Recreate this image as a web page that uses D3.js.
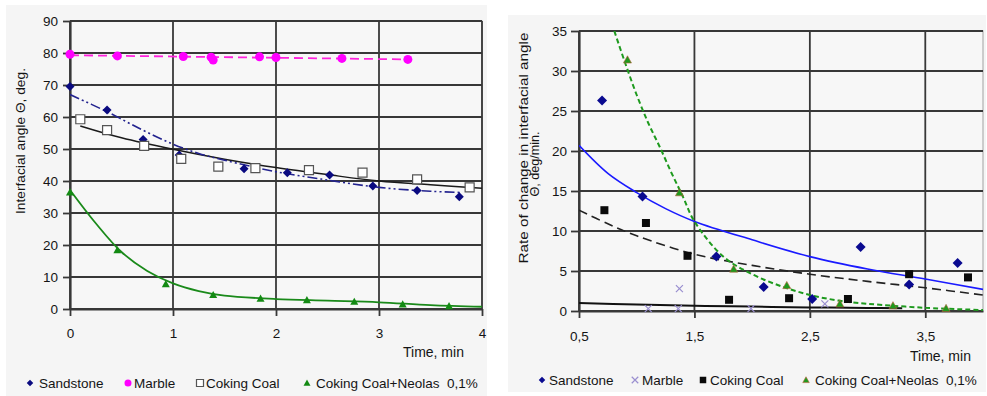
<!DOCTYPE html>
<html>
<head>
<meta charset="utf-8">
<script src="https://cdn.jsdelivr.net/npm/d3@7"></script>
<style>
  body { margin: 0; background: #fff; }
  svg { display: block; font-family: Arial, "Liberation Sans", sans-serif; }
</style>
</head>
<body>
<svg id="chart" width="987" height="396"></svg>
<script>
// ---- Left chart: interfacial angle vs time ----
const sandTime = [0, 0.36, 0.71, 1.06, 1.69, 2.11, 2.52, 2.94, 3.37, 3.78];
const sandAngle = [69.5, 62.2, 53, 48.1, 43.8, 42.6, 41.9, 38.4, 37, 35.1];
const marbleTime = [0, 0.46, 1.1, 1.37, 1.39, 1.84, 2.0, 2.64, 3.28];
const marbleAngle = [79.6, 79.1, 78.9, 78.7, 77.8, 78.8, 78.6, 78.3, 78];
const coalTime = [0.1, 0.36, 0.72, 1.08, 1.44, 1.8, 2.32, 2.84, 3.37, 3.88];
const coalAngle = [59.3, 55.9, 51, 46.9, 44.5, 44, 43.4, 42.6, 40.5, 38];
const neolasTime = [0, 0.46, 0.93, 1.39, 1.85, 2.3, 2.76, 3.23, 3.68];
const neolasAngle = [36.5, 18.4, 7.8, 4.4, 3.3, 2.8, 2.3, 1.5, 0.9];

// trend lines
const sandFitTime = [0, 0.35, 0.7, 1, 1.25, 1.5, 2, 2.5, 3, 3.5, 3.8];
const sandFitAngle = [67, 61.8, 56, 51.5, 48.6, 46.5, 42.9, 40.3, 38, 36.8, 36.4];
const marbleFitTime = [0, 3.28];
const marbleFitAngle = [79.3, 78];
const coalFitTime = [0.1, 0.5, 1, 1.5, 2, 2.5, 3, 3.5, 4];
const coalFitAngle = [57.2, 53.5, 49.9, 46.8, 44.2, 42, 40, 38.8, 37.7];
const neolasFitTime = [0, 0.25, 0.5, 0.75, 1, 1.25, 1.5, 2, 2.5, 3, 3.5, 4];
const neolasFitAngle = [37.2, 26.8, 17.8, 11.9, 8, 5.6, 4.2, 3.1, 2.6, 2.1, 1.2, 0.7];

const leftXTicks = [0, 1, 2, 3, 4];
const leftYTicks = [0, 10, 20, 30, 40, 50, 60, 70, 80, 90];

// ---- Right chart: rate of change vs time ----
const sandTime2 = [0.7, 1.05, 1.69, 2.1, 2.52, 2.94, 3.36, 3.78];
const sandRate = [26.3, 14.3, 6.8, 3.0, 1.5, 8.0, 3.3, 6.0];
const marbleTime2 = [1.1, 1.36, 1.37, 1.99, 2.63];
const marbleRate = [0.3, 0.3, 2.8, 0.3, 0.9];
const coalTime2 = [0.72, 1.08, 1.44, 1.8, 2.32, 2.83, 3.36, 3.87];
const coalRate = [12.6, 11.0, 6.9, 1.4, 1.6, 1.5, 4.6, 4.2];
const neolasTime2 = [0.92, 1.37, 1.84, 2.3, 2.76, 3.22, 3.68];
const neolasRate = [31.4, 14.8, 5.25, 3.2, 0.9, 0.67, 0.33];

const sandFitTime2 = [0.5, 0.75, 1, 1.25, 1.5, 2, 2.5, 3, 3.5, 4];
const sandFitRate = [20.7, 17.2, 14.8, 12.8, 11.2, 8.9, 6.8, 5.25, 4.0, 2.7];
const marbleFitTime2 = [0.5, 1, 1.5, 2, 2.5, 3, 3.3];
const marbleFitRate = [1.0, 0.8, 0.65, 0.55, 0.45, 0.38, 0.35];
const coalFitTime2 = [0.5, 0.75, 1, 1.5, 2, 2.5, 3, 3.5, 4];
const coalFitRate = [12.6, 10.9, 9.4, 7.1, 5.7, 4.6, 3.7, 2.9, 2.0];
const neolasFitTime2 = [0.806, 0.9, 1, 1.1, 1.2, 1.3, 1.4, 1.5, 1.75, 2, 2.25, 2.5, 2.75, 3, 3.5, 4];
const neolasFitRate = [35, 31, 27, 23.5, 20.5, 17.3, 14.3, 11.2, 6.8, 4.6, 3.1, 2.0, 1.3, 0.9, 0.4, 0.12];

const rightXTicks = [0.5, 1.5, 2.5, 3.5];
const rightYTicks = [0, 5, 10, 15, 20, 25, 30, 35];

const legendNames = ['Sandstone', 'Marble', 'Coking Coal', 'Coking Coal+Neolas  0,1%'];

const svg = d3.select('#chart');
const zip = (xs, ys) => xs.map((x, i) => ({ x, y: ys[i] }));

// marker shapes
function markerPath(kind, s) {
  const h = s / 2;
  if (kind === 'diamond') return `M0,${-h}L${h},0L0,${h}L${-h},0Z`;
  if (kind === 'square') return `M${-h},${-h}H${h}V${h}H${-h}Z`;
  if (kind === 'triangle') return `M0,${-h}L${h},${h * 0.8}L${-h},${h * 0.8}Z`;
  if (kind === 'cross') return `M${-h},${-h}L${h},${h}M${h},${-h}L${-h},${h}`;
  return d3.symbol(d3.symbolCircle, s * s * 0.785)();
}

function drawPanel(cfg) {
  const { bg, plot, xDomain, yDomain, xTicks, yTicks, xFmt } = cfg;
  svg.append('rect')
    .attr('x', bg[0]).attr('y', bg[1]).attr('width', bg[2]).attr('height', bg[3])
    .attr('fill', '#f5f5f5');

  const x = d3.scaleLinear().domain(xDomain).range([plot.left, plot.right]);
  const y = d3.scaleLinear().domain(yDomain).range([plot.bottom, plot.top]);

  const g = svg.append('g');

  // plot border (light)
  g.append('rect')
    .attr('x', plot.left).attr('y', plot.top)
    .attr('width', plot.right - plot.left).attr('height', plot.bottom - plot.top)
    .attr('fill', '#f7f7f7').attr('stroke', '#b0b0b0').attr('stroke-width', 1.2);

  // grid lines
  g.append('g').selectAll('line').data(yTicks).join('line')
    .attr('x1', plot.left).attr('x2', plot.right)
    .attr('y1', d => y(d)).attr('y2', d => y(d))
    .attr('stroke', '#383838').attr('stroke-width', 1.8);
  g.append('g').selectAll('line').data(xTicks).join('line')
    .attr('x1', d => x(d)).attr('x2', d => x(d))
    .attr('y1', plot.top).attr('y2', plot.bottom)
    .attr('stroke', '#383838').attr('stroke-width', 1.8);

  // axes
  const yAxis = g.append('g')
    .attr('transform', `translate(${plot.left},0)`)
    .call(d3.axisLeft(y).tickValues(yTicks).tickSize(cfg.yTickSize).tickPadding(cfg.yTickPad).tickSizeOuter(0));
  const xAxis = g.append('g')
    .attr('transform', `translate(0,${plot.bottom})`)
    .call(d3.axisBottom(x).tickValues(xTicks).tickFormat(xFmt).tickSize(7).tickPadding(cfg.xTickPad).tickSizeOuter(0));
  [yAxis, xAxis].forEach(a => {
    a.select('.domain').attr('stroke', '#383838').attr('stroke-width', 2.2);
    a.selectAll('.tick line').attr('stroke', '#383838').attr('stroke-width', 1.8);
    a.selectAll('.tick text')
      .attr('fill', '#141414').attr('font-size', 13.5).attr('font-family', 'Arial, "Liberation Sans", sans-serif');
  });

  // axis titles
  g.append('text')
    .attr('x', cfg.xTitle[0]).attr('y', cfg.xTitle[1])
    .attr('font-size', 14).attr('fill', '#141414')
    .text('Time, min');
  cfg.yTitle.forEach(t => {
    g.append('text')
      .attr('transform', `translate(${t.x},${t.cy}) rotate(-90)`)
      .attr('text-anchor', 'middle')
      .attr('font-size', 12.5).attr('fill', '#141414')
      .attr('textLength', t.len).attr('lengthAdjust', 'spacingAndGlyphs')
      .text(t.text);
  });

  // clipping for lines
  const clipId = 'clip' + cfg.id;
  svg.append('clipPath').attr('id', clipId)
    .append('rect')
    .attr('x', plot.left).attr('y', plot.top)
    .attr('width', plot.right - plot.left).attr('height', plot.bottom - plot.top);

  const lineGen = d3.line().x(d => x(d.x)).y(d => y(d.y)).curve(d3.curveCatmullRom.alpha(0.5));

  const lines = g.append('g').attr('clip-path', `url(#${clipId})`);
  cfg.fits.forEach(f => {
    lines.append('path')
      .datum(zip(f.xs, f.ys))
      .attr('d', lineGen)
      .attr('fill', 'none')
      .attr('stroke', f.color)
      .attr('stroke-width', f.width)
      .attr('stroke-dasharray', f.dash || null);
  });

  // points
  cfg.series.forEach(s => {
    g.append('g').selectAll('path').data(zip(s.xs, s.ys)).join('path')
      .attr('transform', d => `translate(${x(d.x)},${y(d.y)})`)
      .attr('d', markerPath(s.shape, s.size))
      .attr('fill', s.fill)
      .attr('stroke', s.stroke)
      .attr('stroke-width', s.sw);
  });

  // legend
  const lg = g.append('g');
  cfg.series.forEach((s, i) => {
    const it = cfg.legend[i];
    lg.append('path')
      .attr('transform', `translate(${it[0]},${cfg.legendY})`)
      .attr('d', markerPath(s.shape, s.legendSize || 6.5))
      .attr('fill', s.fill).attr('stroke', s.stroke).attr('stroke-width', s.sw);
    lg.append('text')
      .attr('x', it[1]).attr('y', cfg.legendY)
      .attr('dy', '0.35em')
      .attr('font-size', 13.5).attr('fill', '#141414')
      .style('white-space', 'pre')
      .text(legendNames[i]);
  });
}

drawPanel({
  id: 'L',
  bg: [6, 5, 481, 391],
  plot: { left: 70, right: 482, top: 21, bottom: 309 },
  xDomain: [0, 4], yDomain: [0, 90],
  xTicks: leftXTicks, yTicks: leftYTicks,
  xFmt: d3.format('d'),
  yTickSize: 7, yTickPad: 5, xTickPad: 12,
  xTitle: [403, 357],
  yTitle: [{ x: 25, cy: 141, len: 146, text: 'Interfacial angle \u0398, deg.' }],
  fits: [
    { xs: marbleFitTime, ys: marbleFitAngle, color: '#ff22dd', width: 1.8, dash: '9,5' },
    { xs: coalFitTime, ys: coalFitAngle, color: '#1a1a1a', width: 1.5 },
    { xs: sandFitTime, ys: sandFitAngle, color: '#23238f', width: 1.6, dash: '10,3,2,3,2,3' },
    { xs: neolasFitTime, ys: neolasFitAngle, color: '#1a8a1a', width: 1.8 }
  ],
  series: [
    { xs: sandTime, ys: sandAngle, shape: 'diamond', size: 9, fill: '#0a0a80', stroke: 'none', sw: 0 },
    { xs: marbleTime, ys: marbleAngle, shape: 'circle', size: 9, fill: '#ff00ff', stroke: 'none', sw: 0, legendSize: 7 },
    { xs: coalTime, ys: coalAngle, shape: 'square', size: 9, fill: '#ffffff', stroke: '#555', sw: 1.2, legendSize: 7 },
    { xs: neolasTime, ys: neolasAngle, shape: 'triangle', size: 8, fill: '#138a13', stroke: 'none', sw: 0, legendSize: 7 }
  ],
  legend: [[30, 39], [128, 134], [200, 206], [307, 316]],
  legendY: 383
});

drawPanel({
  id: 'R',
  bg: [508, 15, 478, 377],
  plot: { left: 579, right: 983, top: 31, bottom: 311 },
  xDomain: [0.5, 4], yDomain: [0, 35],
  xTicks: rightXTicks, yTicks: rightYTicks,
  xFmt: d => d3.format('.1f')(d).replace('.', ','),
  yTickSize: 8, yTickPad: 4, xTickPad: 13,
  xTitle: [910, 361],
  yTitle: [
    { x: 528, cy: 148, len: 231, text: 'Rate of change in interfacial angle' },
    { x: 539, cy: 164, len: 65, text: '\u0398, deg/min.' }
  ],
  fits: [
    { xs: marbleFitTime2, ys: marbleFitRate, color: '#111', width: 2 },
    { xs: coalFitTime2, ys: coalFitRate, color: '#222', width: 1.6, dash: '9,5' },
    { xs: sandFitTime2, ys: sandFitRate, color: '#1a1aff', width: 1.6 },
    { xs: neolasFitTime2, ys: neolasFitRate, color: '#1e9a1e', width: 2, dash: '5,3' }
  ],
  series: [
    { xs: sandTime2, ys: sandRate, shape: 'diamond', size: 10, fill: '#0a0a90', stroke: 'none', sw: 0 },
    { xs: marbleTime2, ys: marbleRate, shape: 'cross', size: 7, fill: 'none', stroke: '#9a8fd0', sw: 1.2 },
    { xs: coalTime2, ys: coalRate, shape: 'square', size: 8, fill: '#0a0a0a', stroke: 'none', sw: 0 },
    { xs: neolasTime2, ys: neolasRate, shape: 'triangle', size: 8, fill: '#1e9a1e', stroke: '#b8603a', sw: 0.6 }
  ],
  legend: [[542, 549], [635, 642], [703, 710], [806, 815]],
  legendY: 380
});
</script>
</body>
</html>
